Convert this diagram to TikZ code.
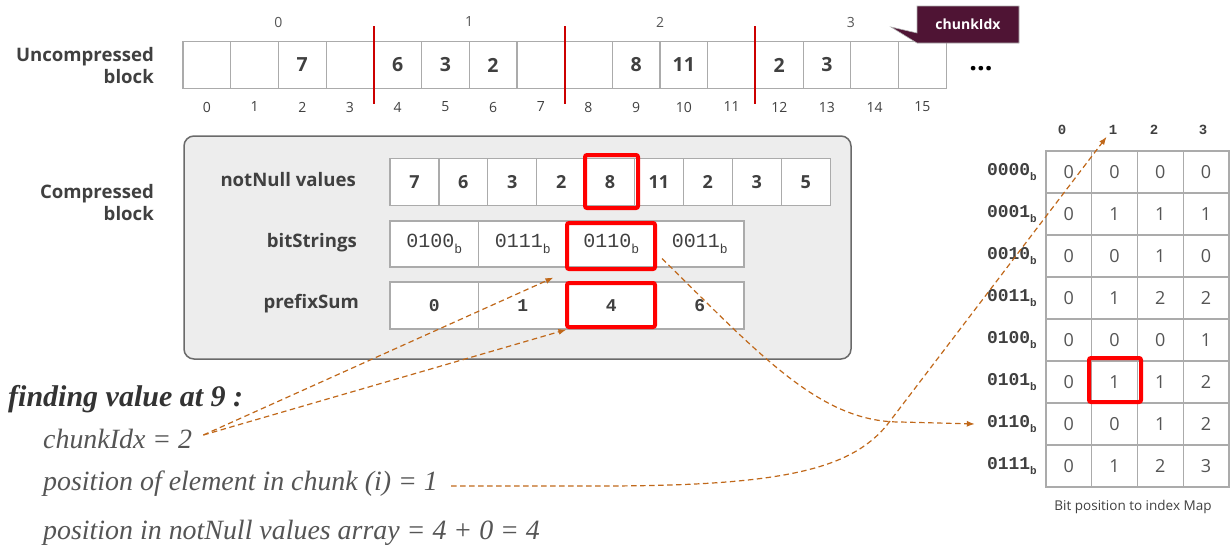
\documentclass[tikz,border=0pt]{standalone}
\usepackage{fontspec}
\setmainfont{Open Sans}
\newfontfamily\monof{Liberation Mono}
\newfontfamily\serf{Liberation Serif}
\usetikzlibrary{arrows.meta}
\definecolor{cellline}{HTML}{ABABAB}
\definecolor{txtd}{HTML}{404040}
\definecolor{txtm}{HTML}{555555}
\definecolor{arrc}{HTML}{C0681A}
\definecolor{maroon}{HTML}{4F1434}
\definecolor{boxfill}{HTML}{EDEDED}
\definecolor{boxline}{HTML}{6A6A6A}
\definecolor{hlred}{HTML}{FF0000}
\definecolor{sepred}{HTML}{CC0000}
\newcommand{\binnum}[2]{#1\raisebox{-0.32em}{\fontsize{#2}{#2}\selectfont b}}
\begin{document}
\begin{tikzpicture}[x=1pt,y=-1pt,
  cellbox/.style={draw=cellline, line width=1.2pt, fill=white, inner sep=0pt, text=txtd},
  ucell/.style={cellbox, minimum width=47.7pt, minimum height=47.4pt, font=\bfseries\fontsize{19.5}{19.5}\selectfont},
  ncell/.style={cellbox, minimum width=48.9pt, minimum height=47.7pt, font=\bfseries\fontsize{18}{18}\selectfont},
  bcell/.style={cellbox, minimum width=88.5pt, minimum height=46pt, font=\monof\fontsize{20}{20}\selectfont},
  pcell/.style={cellbox, minimum width=88.5pt, minimum height=47pt, font=\monof\bfseries\fontsize{18}{18}\selectfont},
  tcell/.style={cellbox, minimum width=45.75pt, minimum height=42pt, font=\fontsize{18}{18}\selectfont, text=txtm},
  idx/.style={font=\fontsize{14}{14}\selectfont, text=txtd, inner sep=0pt},
  hdr/.style={font=\monof\bfseries\fontsize{14}{14}\selectfont, text=txtd, inner sep=0pt},
  rowlab/.style={font=\bfseries\fontsize{18.6}{22}\selectfont, text=txtd, align=right, inner sep=0pt, anchor=east},
  binlab/.style={font=\monof\bfseries\fontsize{18}{18}\selectfont, text=txtd, inner sep=0pt, anchor=east},
  hl/.style={draw=hlred, line width=4pt, rounded corners=2pt},
  sepline/.style={draw=sepred, line width=2pt},
  link/.style={draw=arrc, line width=1.2pt, dash pattern=on 5.5pt off 3.5pt, -{Latex[length=8pt,width=6pt]}},
  explain/.style={font=\serf\itshape\fontsize{27.9}{30}\selectfont, text=txtm, inner sep=0pt, anchor=base west}
]
\useasboundingbox (0,0) rectangle (1230,546);

% ---------- uncompressed block ----------
\node[rowlab] (ulab) at (154,66) {Uncompressed\\block};
\foreach \v [count=\i from 0] in {{},{},7,{},6,3,2,{},{},8,11,{},2,3,{},{}} {
  \node[ucell] (u\i) at ({183+47.7*(\i+0.5)},65) {\v};
  \node[idx] (ui\i) at ({183+47.7*(\i+0.5)},107) {\i};
}
\foreach \c in {0,1,2,3} {
  \node[idx, text=txtm] (ch\c) at ({183+47.7*(4*\c+2)},22) {\c};
}
\foreach \c in {1,2,3} {
  \draw[sepline] ({183+47.7*4*\c},26) -- ({183+47.7*4*\c},104);
}
\node[font=\bfseries\fontsize{27}{27}\selectfont, text=black, inner sep=0pt] (dots) at (981,69) {...};

% callout
\draw[fill=maroon, draw=gray!60, line width=0.6pt] (917,6) -- (1019,6) -- (1019,43) -- (917,43) -- (891,27) -- (917,33) -- cycle;
\node[text=white, font=\bfseries\fontsize{14}{14}\selectfont, inner sep=0pt] (callout) at (968,24) {chunkIdx};

% ---------- compressed block ----------
\node[draw=boxline, fill=boxfill, line width=1.5pt, rounded corners=10pt, minimum width=667pt, minimum height=223pt, inner sep=0pt] (cbox) at (517.5,247.5) {};
\node[rowlab] (clab) at (154,203) {Compressed\\block};
\node[rowlab] (nlab) at (356,180) {notNull values};
\node[rowlab] (blab) at (357,243) {bitStrings};
\node[rowlab] (plab) at (359,304) {prefixSum};

\foreach \v [count=\i from 0] in {7,6,3,2,8,11,2,3,5} {
  \node[ncell] (n\i) at ({390+48.9*(\i+0.5)},182) {\v};
}
\foreach \v [count=\i from 0] in {0100,0111,0110,0011} {
  \node[bcell] (b\i) at ({390+88.5*(\i+0.5)},244) {\binnum{\v}{13}};
}
\foreach \v [count=\i from 0] in {0,1,4,6} {
  \node[pcell] (p\i) at ({390+88.5*(\i+0.5)},305.5) {\v};
}
\draw[hl] (585,155) rectangle (638,208);
\draw[hl] (567,223) rectangle (655,269);
\draw[hl] (567,283) rectangle (655,327);

% ---------- map table ----------
\node[hdr] (h0) at (1062,130) {0};
\node[hdr] (h1) at (1113,130) {1};
\node[hdr] (h2) at (1154,130) {2};
\node[hdr] (h3) at (1203,130) {3};
\foreach \lbl [count=\r from 0] in {0000,0001,0010,0011,0100,0101,0110,0111} {
  \node[binlab] (r\r) at (1037,{151+42*(\r+0.5)}) {\binnum{\lbl}{11}};
}
\foreach \row [count=\r from 0] in {{0,0,0,0},{0,1,1,1},{0,0,1,0},{0,1,2,2},{0,0,0,1},{0,1,1,2},{0,0,1,2},{0,1,2,3}} {
  \foreach \v [count=\c from 0] in \row {
    \node[tcell] (t\r\c) at ({1046+45.75*(\c+0.5)},{151+42*(\r+0.5)}) {\v};
  }
}
\draw[hl] (1089,358) rectangle (1141,402);
\node[font=\fontsize{13.5}{14}\selectfont, text=txtd, inner sep=0pt] (cap) at (1133,507) {Bit position to index Map};

% ---------- explanation ----------
\node[font=\serf\bfseries\itshape\fontsize{30}{30}\selectfont, text=black!80, inner sep=0pt, anchor=base west] (find) at (8,406) {finding value at 9 :};
\node[explain] (ck) at (43,448) {chunkIdx = 2};
\node[explain] (pos) at (43,490) {position of element in chunk (i) = 1};
\node[explain] (arr) at (43,539) {position in notNull values array = 4 + 0 = 4};

% ---------- connectors ----------
\draw[link] ([shift={(11,-13)}]ck.base east) -- ([shift={(-13,10)}]b2.south west);
\draw[link] ([shift={(11,-13)}]ck.base east) -- (p2.south west);
\draw[link] ([shift={(6,-9)}]b2.south east) .. controls (760,355) and (820,422) .. (900,422) -- ([xshift=-12pt]r6.west);
\draw[link] ([shift={(13,-4)}]pos.base east) -- (600,486) .. controls (780,486) and (850,470) .. (887,425) -- ([shift={(-2,2)}]h1.south west);
\end{tikzpicture}
\end{document}
